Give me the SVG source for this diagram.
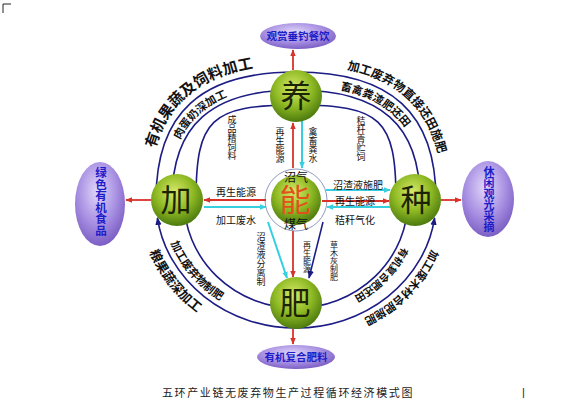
<svg xmlns="http://www.w3.org/2000/svg" width="585" height="418" viewBox="0 0 585 418">
<defs>
<radialGradient id="gNode" cx="45%" cy="35%" r="65%">
<stop offset="0" stop-color="#d8ea6a"/>
<stop offset="0.55" stop-color="#8fba24"/>
<stop offset="1" stop-color="#4c7a0e"/>
</radialGradient>
<radialGradient id="gPurp" cx="45%" cy="35%" r="70%">
<stop offset="0" stop-color="#e2d8fa"/>
<stop offset="0.55" stop-color="#a890e2"/>
<stop offset="1" stop-color="#7456bf"/>
</radialGradient>
<marker id="aRed" viewBox="0 0 10 10" refX="9" refY="5" markerWidth="7" markerHeight="7" orient="auto" markerUnits="userSpaceOnUse"><path d="M0,1 L10,5 L0,9 z" fill="#d8322a"/></marker>
<marker id="aCyan" viewBox="0 0 10 10" refX="9" refY="5" markerWidth="7" markerHeight="7" orient="auto" markerUnits="userSpaceOnUse"><path d="M0,1 L10,5 L0,9 z" fill="#35cfe0"/></marker>
<marker id="aNavy" viewBox="0 0 10 10" refX="9" refY="5" markerWidth="8" markerHeight="8" orient="auto" markerUnits="userSpaceOnUse"><path d="M0,1 L10,5 L0,9 z" fill="#1c1c84"/></marker>
<path id="tOut" d="M149,200 C149,108.2 196,65 296,65 C396,65 443,108.2 443,200"/>
<path id="tMid" d="M168,200 C168,122.5 208.9,86 296,86 C383.1,86 424,122.5 424,200"/>
<path id="t5" d="M163.3,183 A134,122 0 0 0 277.3,320.8"/>
<path id="t6" d="M141.4,174.8 A157,145 0 0 0 268.7,342.8"/>
<path id="t7" d="M412.8,194.2 A117,111 0 0 1 302.1,310.8"/>
<path id="t8" d="M441.6,190.6 A146,134 0 0 1 306.2,333.7"/>
</defs>
<style>
.ring{fill:none;stroke:#1c1c84;stroke-width:1.6}
.red{stroke:#d8322a;stroke-width:1.8;fill:none}
.cyan{stroke:#35cfe0;stroke-width:2;fill:none}
.navy{stroke:#1c1c84;stroke-width:1.6;fill:none}
.node{fill:url(#gNode)}
.nt{font-family:"Noto Sans CJK SC",sans-serif;font-size:31px;fill:#1b2404;text-anchor:middle}
.purp{fill:url(#gPurp)}
.pt{font-family:"Noto Sans CJK SC",sans-serif;font-size:10.5px;font-weight:bold;fill:#1c1cc8;text-anchor:middle}
.ptv{font-family:"Noto Sans CJK SC",sans-serif;font-size:11.5px;font-weight:bold;fill:#1c1cc8;writing-mode:vertical-rl}
.arc{font-family:"Noto Sans CJK SC",sans-serif;font-weight:bold;fill:#111}
.lbl{font-family:"Noto Sans CJK SC",sans-serif;font-size:10px;fill:#111;text-anchor:middle}
.vl{font-family:"Noto Sans CJK SC",sans-serif;font-size:9px;fill:#111;writing-mode:vertical-rl}
</style>
<rect width="585" height="418" fill="#ffffff"/>
<path d="M3,13 V4 H11" fill="none" stroke="#222" stroke-width="1"/>

<g id="rings">
<path class="ring" d="M156,200 C156,113 201,72 296,72 C391,72 436,113 436,200"/>
<path class="ring" d="M172,200 C172,125.2 211.7,90 296,90 C380.3,90 420,125.2 420,200"/>
<path class="ring" d="M196,200 C196,119 211,105 296,105 C381,105 396,119 396,200"/>
<path class="ring" d="M184,200 A112,108 0 0 0 408,200"/>
<path class="ring" d="M296,328 A140,128 0 0 1 157.4,217.8" marker-end="url(#aNavy)"/>
<path class="ring" d="M296,328 A140,128 0 0 0 434.6,217.8" marker-end="url(#aNavy)"/>
<circle cx="296" cy="200" r="31" fill="none" stroke="#8d9bbd" stroke-width="1"/>
</g>

<g id="connectors">
<line class="red" x1="293" y1="168" x2="293" y2="123" marker-end="url(#aRed)"/>
<line class="red" x1="293" y1="70" x2="293" y2="50" marker-end="url(#aRed)"/>
<line class="cyan" x1="302" y1="121" x2="302" y2="168" marker-end="url(#aCyan)"/>
<line class="red" x1="266" y1="200" x2="204" y2="200" marker-end="url(#aRed)"/>
<line class="red" x1="151" y1="200" x2="126" y2="200" marker-end="url(#aRed)"/>
<line class="cyan" x1="204" y1="207" x2="266" y2="207" marker-end="url(#aCyan)"/>
<line class="cyan" x1="326" y1="190" x2="390" y2="190" marker-end="url(#aCyan)"/>
<line class="red" x1="322" y1="201" x2="389" y2="201" marker-end="url(#aRed)"/>
<line class="cyan" x1="390" y1="207" x2="327" y2="207" marker-end="url(#aCyan)"/>
<line class="red" x1="441" y1="200" x2="461" y2="200" marker-end="url(#aRed)"/>
<line class="red" x1="293" y1="231" x2="293" y2="277" marker-end="url(#aRed)"/>
<line class="red" x1="293" y1="329" x2="293" y2="344" marker-end="url(#aRed)"/>
<line class="cyan" x1="268" y1="222" x2="287" y2="278" marker-end="url(#aCyan)"/>
<line class="navy" x1="323" y1="222" x2="309" y2="278" marker-end="url(#aNavy)"/>
</g>

<g id="node-yang"><circle class="node" cx="296" cy="96" r="26"/><text class="nt" x="296" y="107">养</text></g>
<g id="node-neng"><circle class="node" cx="296" cy="200" r="25"/><text class="nt" x="295" y="211" style="fill:#e2501c">能</text></g>
<g id="node-fei"><circle class="node" cx="296" cy="303" r="26"/><text class="nt" x="295" y="314">肥</text></g>
<g id="node-jia"><circle class="node" cx="177" cy="200" r="26"/><text class="nt" x="176" y="211">加</text></g>
<g id="node-zhong"><circle class="node" cx="415" cy="200" r="26"/><text class="nt" x="416" y="211">种</text></g>

<g id="out-top"><ellipse class="purp" cx="298" cy="36" rx="38" ry="13"/><text class="pt" x="298" y="40">观赏垂钓餐饮</text></g>
<g id="out-left"><ellipse class="purp" cx="100" cy="204" rx="25" ry="42"/><text class="ptv" x="101" y="167">绿色有机食品</text></g>
<g id="out-right"><ellipse class="purp" cx="488" cy="199" rx="26" ry="38"/><text class="ptv" x="489" y="166" style="font-size:11px">休闲观光采摘</text></g>
<g id="out-bottom"><ellipse class="purp" cx="296" cy="357" rx="39" ry="12"/><text class="pt" x="296" y="361">有机复合肥料</text></g>

<g id="arc-labels">
<text class="arc" font-size="15"><textPath href="#tOut" startOffset="26%" text-anchor="middle">有机果蔬及饲料加工</textPath></text>
<text class="arc" font-size="11"><textPath href="#tMid" startOffset="24%" text-anchor="middle">肉蛋奶深加工</textPath></text>
<text class="arc" font-size="12"><textPath href="#tOut" startOffset="75.5%" text-anchor="middle">加工废弃物直接还田施肥</textPath></text>
<text class="arc" font-size="11"><textPath href="#tMid" startOffset="71%" text-anchor="middle">畜禽粪渣肥还田</textPath></text>
<text class="arc" font-size="11"><textPath href="#t5" startOffset="50%" text-anchor="middle">加工废弃物制肥</textPath></text>
<text class="arc" font-size="13"><textPath href="#t6" startOffset="50%" text-anchor="middle">粮果蔬深加工</textPath></text>
<text class="arc" font-size="10"><textPath href="#t7" startOffset="50%" text-anchor="middle">有机复合肥还田</textPath></text>
<text class="arc" font-size="11"><textPath href="#t8" startOffset="50%" text-anchor="middle">加工废木材合肥施肥</textPath></text>
</g>

<g id="line-labels">
<text class="vl" x="280" y="127">再生能源</text>
<text class="vl" x="313" y="127">禽畜粪水</text>
<text class="vl" x="232" y="115">成品精饲料</text>
<text class="vl" x="361" y="116">秸秆青贮饲</text>
<text class="vl" x="261" y="232">沼渣液分离制</text>
<text class="vl" x="307" y="241" style="font-size:8px">再生能源</text>
<text class="vl" x="334" y="241" style="font-size:8px">草木灰制肥</text>
<text class="lbl" x="296" y="182" style="font-size:12px">沼气</text>
<text class="lbl" x="296" y="229" style="font-size:12px">煤气</text>
<text class="lbl" x="236" y="196">再生能源</text>
<text class="lbl" x="236" y="224">加工废水</text>
<text class="lbl" x="358" y="189">沼渣液施肥</text>
<text class="lbl" x="355" y="205">再生能源</text>
<text class="lbl" x="355" y="224">秸秆气化</text>
</g>

<text x="162" y="397" style="font-family:'Noto Sans CJK SC',sans-serif;font-size:11px;letter-spacing:1.6px;fill:#222">五环产业链无废弃物生产过程循环经济模式图</text>
<text x="522" y="396" style="font-family:'Liberation Sans',sans-serif;font-size:11px;fill:#222">|</text>
</svg>
